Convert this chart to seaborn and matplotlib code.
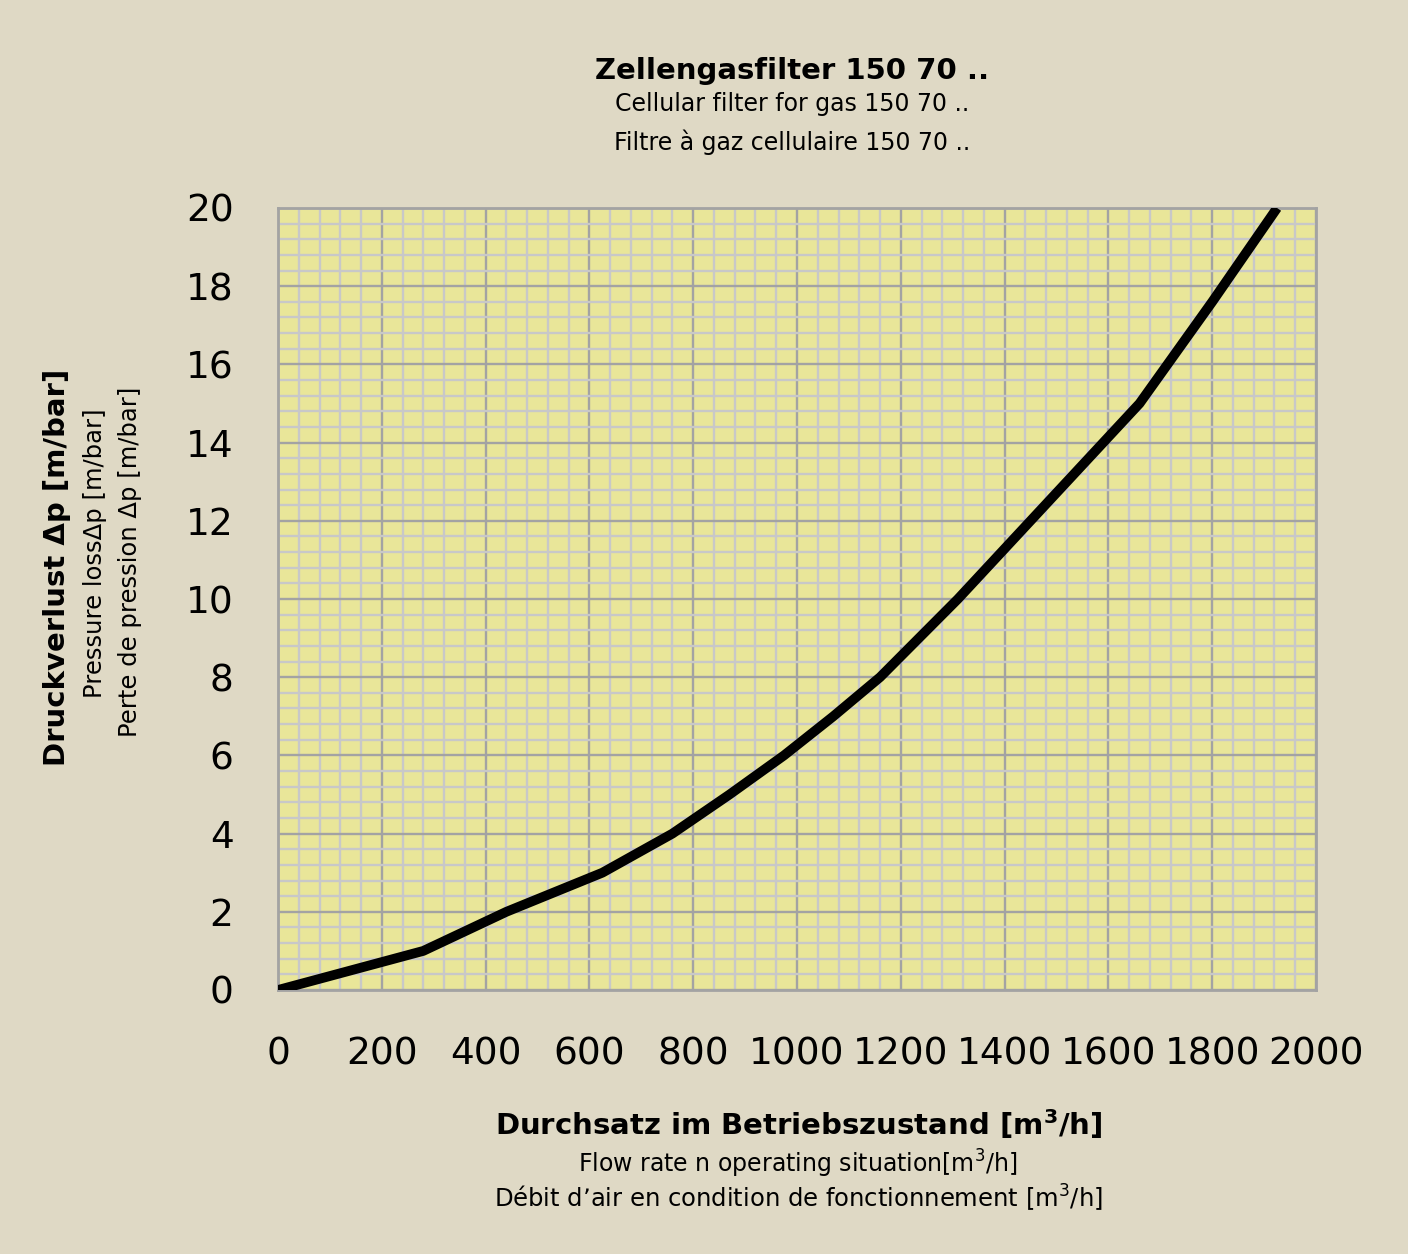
import matplotlib
matplotlib.use("Agg")
import matplotlib.pyplot as plt
import seaborn as sns
import pandas as pd
from matplotlib.ticker import MultipleLocator

# ---- data ----
flow = [0, 280, 440, 625, 760, 870, 975, 1070, 1160, 1310, 1450, 1660, 1800, 1925]
dp = [0, 1, 2, 3, 4, 5, 6, 7, 8, 10, 12, 15, 17.6, 20]
x_ticks = [0, 200, 400, 600, 800, 1000, 1200, 1400, 1600, 1800, 2000]
y_ticks = [0, 2, 4, 6, 8, 10, 12, 14, 16, 18, 20]

title_lines = ["Zellengasfilter 150 70 ..",
               "Cellular filter for gas 150 70 ..",
               "Filtre à gaz cellulaire 150 70 .."]
xlabel_lines = ["Durchsatz im Betriebszustand [m$^\\mathregular{3}$/h]",
                "Flow rate n operating situation[m$^\\mathregular{3}$/h]",
                "Débit d’air en condition de fonctionnement [m$^\\mathregular{3}$/h]"]
ylabel_lines = ["Druckverlust Δp [m/bar]",
                "Pressure lossΔp [m/bar]",
                "Perte de pression Δp [m/bar]"]

df = pd.DataFrame({"flow": flow, "dp": dp})

sns.set_theme(style="whitegrid")
BG = "#dfd9c5"
FACE = "#e9e699"
plt.rcParams["font.family"] = ["DejaVu Sans"]
plt.rcParams["text.color"] = "black"

fig = plt.figure(figsize=(14.08, 12.54), dpi=100, facecolor=BG)
ax = fig.add_axes([278 / 1408, 1 - 990 / 1254, (1316 - 278) / 1408, (990 - 208) / 1254])
ax.set_facecolor(FACE)

sns.lineplot(data=df, x="flow", y="dp", ax=ax, color="black", linewidth=7,
             sort=False, solid_capstyle="butt", solid_joinstyle="round", zorder=5)

ax.set_xlim(0, 2000)
ax.set_ylim(0, 20)
ax.set_xticks(x_ticks)
ax.set_yticks(y_ticks)
ax.xaxis.set_minor_locator(MultipleLocator(40))
ax.yaxis.set_minor_locator(MultipleLocator(0.4))
ax.grid(which="minor", color="#c8c8c8", linewidth=1.7, zorder=1)
ax.grid(which="major", color="#a3a3a3", linewidth=1.7, zorder=2)
ax.set_axisbelow(True)
for s in ax.spines.values():
    s.set_color("#a3a3a3")
    s.set_linewidth(2.0)
    s.set_visible(True)
ax.tick_params(axis="both", which="both", length=0, labelsize=27,
               colors="black", labelcolor="black")
ax.tick_params(axis="x", pad=33.5)
ax.tick_params(axis="y", pad=32)
ax.set_xlabel("")
ax.set_ylabel("")

# titles
fig.text(792 / 1408, 1 - 71 / 1254, title_lines[0], ha="center", va="center",
         fontsize=21, fontweight="bold", color="black")
fig.text(792 / 1408, 1 - 104 / 1254, title_lines[1], ha="center", va="center",
         fontsize=17, color="black")
fig.text(792 / 1408, 1 - 142 / 1254, title_lines[2], ha="center", va="center",
         fontsize=17, color="black")

# x label
fig.text(799 / 1408, 1 - 1124 / 1254, xlabel_lines[0], ha="center", va="center",
         fontsize=21, fontweight="bold", color="black")
fig.text(798 / 1408, 1 - 1164 / 1254, xlabel_lines[1], ha="center", va="center",
         fontsize=17, color="black")
fig.text(798 / 1408, 1 - 1198 / 1254, xlabel_lines[2], ha="center", va="center",
         fontsize=17.5, color="black")

# y label
fig.text(57 / 1408, 1 - 567 / 1254, ylabel_lines[0], ha="center", va="center",
         rotation=90, fontsize=21, fontweight="bold", color="black")
fig.text(95 / 1408, 1 - 553 / 1254, ylabel_lines[1], ha="center", va="center",
         rotation=90, fontsize=17.5, color="black")
fig.text(130 / 1408, 1 - 562 / 1254, ylabel_lines[2], ha="center", va="center",
         rotation=90, fontsize=17.5, color="black")

fig.savefig("out.png", dpi=100, facecolor=BG)
